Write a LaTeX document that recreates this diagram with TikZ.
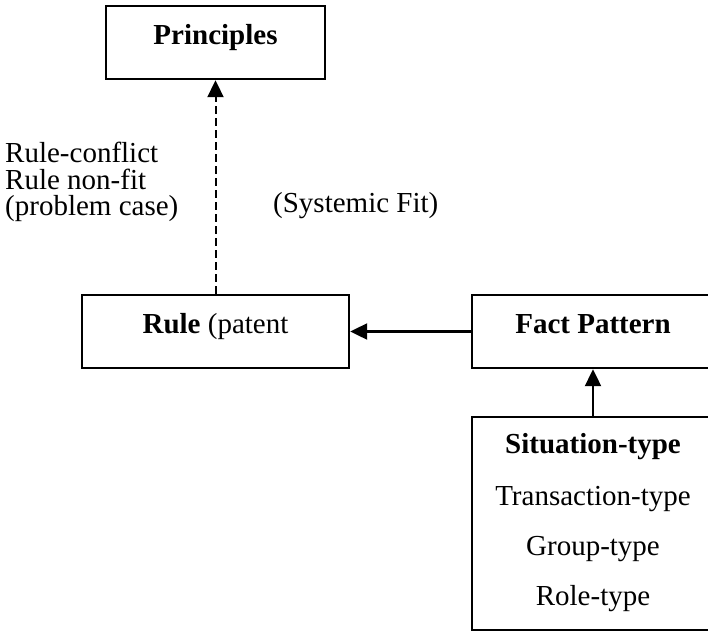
\documentclass[tikz,border=0pt]{standalone}
\usepackage{fontspec}
\setmainfont{Liberation Serif}
\usetikzlibrary{arrows.meta}
\begin{document}
\begin{tikzpicture}[x=1pt,y=-1pt,
  every node/.style={font=\fontsize{29}{32}\selectfont},
  box/.style={draw,line width=2.4pt,inner sep=0pt,rectangle},
  txt/.style={inner sep=0pt,anchor=base},
  arr/.style={line width=2.2pt,-{Triangle[length=17pt,width=16pt]}},
  darr/.style={line width=2pt,dash pattern=on 8pt off 4pt,-{Triangle[length=17pt,width=16pt]}}]
\useasboundingbox (0,0) rectangle (708,634);
\clip (0,0) rectangle (708,634);
% boxes
\node[box,minimum width=219pt,text height=39pt,text depth=34pt] (principles) at (215.5,42.5) {\textbf{Principles}};
\node[box,minimum width=267pt,text height=38pt,text depth=35pt] (rule) at (215.5,331.5) {\textbf{Rule} (patent};
\node[box,minimum width=242pt,text height=38pt,text depth=35pt] (fact) at (593,331.5) {\textbf{Fact Pattern}};
\node[box,minimum width=242pt,minimum height=213pt] (situation) at (593,523.5) {};
\node[txt] (s1) at (593,453) {\textbf{Situation-type}};
\node[txt] (s2) at (593,505) {Transaction-type};
\node[txt] (s3) at (593,555) {Group-type};
\node[txt] (s4) at (593,605) {Role-type};
% labels
\node[txt,anchor=base west] (l1) at (5,162) {Rule-conflict};
\node[txt,anchor=base west] (l2) at (5,189) {Rule non-fit};
\node[txt,anchor=base west] (l3) at (5,215.5) {(problem case)};
\node[txt,anchor=base west] (sf) at (273,212) {(Systemic Fit)};
% connectors
\draw[darr] (rule.north) -- (principles.south);
\draw[arr] (fact.west) -- (rule.east);
\draw[arr] (situation.north) -- (fact.south);
\end{tikzpicture}
\end{document}
